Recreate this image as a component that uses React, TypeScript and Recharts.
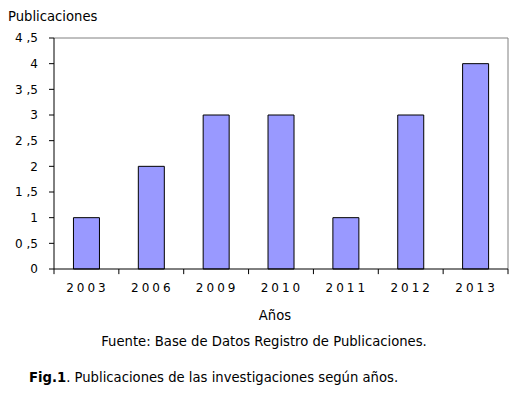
import { BarChart, Bar, XAxis, YAxis, ReferenceLine } from 'recharts';

const years = ['2003', '2006', '2009', '2010', '2011', '2012', '2013'];
const publications = [1, 2, 3, 3, 1, 3, 4];
const yTicks = [0, 0.5, 1, 1.5, 2, 2.5, 3, 3.5, 4, 4.5];

const data = years.map((year, i) => ({ year, value: publications[i] }));

const FONT = 'Verdana, "DejaVu Sans", sans-serif';
const Y_MAX = 4.5;
const TICK_DEPTH = -0.1; // ~5px below the axis

function formatY(v: number): string {
  return String(v).replace('.', ' ,');
}

function YearTick(props: { x?: number; y?: number; payload?: { value: string } }) {
  const { x = 0, y = 0, payload } = props;
  return (
    <text
      x={x + 1}
      y={y + 15}
      textAnchor="middle"
      fill="#000"
      fontSize={12}
      fontFamily={FONT}
      style={{ letterSpacing: '3px' }}
    >
      {payload?.value}
    </text>
  );
}

export default function App() {
  return (
    <div
      style={{
        position: 'absolute',
        left: 0,
        top: 0,
        width: 526,
        height: 396,
        background: '#fff',
        fontFamily: FONT,
        color: '#000',
      }}
    >
      <div style={{ position: 'absolute', left: 8, top: 9, fontSize: 13.2 }}>Publicaciones</div>
      <BarChart
        width={526}
        height={396}
        data={data}
        barCategoryGap="30%"
        margin={{ top: 38, right: 18, left: 0, bottom: 97 }}
      >
        {/* gray frame on top and right */}
        <ReferenceLine y={Y_MAX} stroke="#808080" />
        <ReferenceLine
          segment={[
            { x: '2013', y: 0 },
            { x: '2013', y: Y_MAX },
          ]}
          position="end"
          stroke="#808080"
        />
        {/* tick marks at band boundaries */}
        {years.map((yr) => (
          <ReferenceLine
            key={yr}
            segment={[
              { x: yr, y: 0 },
              { x: yr, y: TICK_DEPTH },
            ]}
            position="start"
            stroke="#000"
            ifOverflow="visible"
          />
        ))}
        <ReferenceLine
          segment={[
            { x: '2013', y: 0 },
            { x: '2013', y: TICK_DEPTH },
          ]}
          position="end"
          stroke="#000"
          ifOverflow="visible"
        />
        <XAxis
          dataKey="year"
          height={30}
          tickLine={false}
          axisLine={{ stroke: '#000' }}
          tick={<YearTick />}
          interval={0}
        />
        <YAxis
          domain={[0, Y_MAX]}
          ticks={yTicks}
          width={54}
          interval={0}
          tickSize={5}
          tickMargin={11}
          tickFormatter={formatY}
          axisLine={{ stroke: '#000' }}
          tickLine={{ stroke: '#000' }}
          tick={{ fill: '#000', fontSize: 12, fontFamily: FONT }}
        />
        <Bar dataKey="value" fill="#9999FF" stroke="#000" strokeWidth={1} isAnimationActive={false} />
      </BarChart>
      <div style={{ position: 'absolute', left: 0, width: 550, top: 308, textAlign: 'center', fontSize: 13.2 }}>
        Años
      </div>
      <div style={{ position: 'absolute', left: 0, width: 528, top: 334, textAlign: 'center', fontSize: 13.2 }}>
        Fuente: Base de Datos Registro de Publicaciones.
      </div>
      <div style={{ position: 'absolute', left: 29, top: 370, fontSize: 13.2 }}>
        <b>Fig.1</b>. Publicaciones de las investigaciones según años.
      </div>
    </div>
  );
}
